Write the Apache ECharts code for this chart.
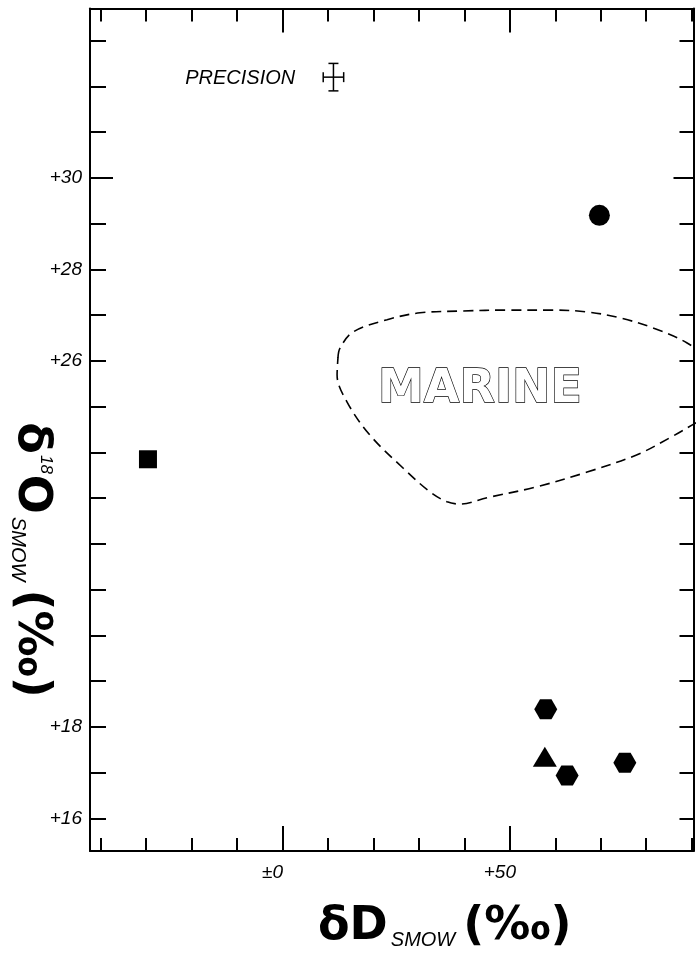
<!DOCTYPE html>
<html>
<head>
<meta charset="utf-8">
<script src="https://cdn.jsdelivr.net/npm/echarts@6/dist/echarts.min.js"></script>
<style>
  html, body { margin: 0; padding: 0; background: #fff; }
  #chart { width: 698px; height: 955px; }
</style>
</head>
<body>
<div id="chart"></div>
<script>
// dD (x) and d18O (y), permil vs SMOW
const xTicks = [-40, -30, -20, -10, 0, 10, 20, 30, 40, 50, 60, 70, 80, 90]
const xMajorTicks = [0, 50]
const xLabelValues = [0, 50]
const yTicks = [16, 17, 18, 19, 20, 21, 22, 23, 24, 25, 26, 27, 28, 29, 30, 31, 32, 33]
const yMajorTicks = [30]
const yLabelValues = [16, 18, 26, 28, 30]

const circlePoints = [[69.7, 29.18]]
const squarePoints = [[-29.6, 23.85]]
const trianglePoints = [[57.7, 17.35]]
const hexagonPoints = [[57.9, 18.39], [62.6, 16.94], [75.3, 17.22]]

// marine field outline (runs past the right edge and gets clipped)
const marineX = [12.2, 12.65, 15.5, 23.0, 30.25, 39.7, 49.4, 59.5, 67.0, 74.2, 81.5, 89.0, 95.1, 96.7, 94.5, 91.4, 85.2, 78.0, 67.0, 56.0, 45.0, 39.1, 36.2, 32.4, 26.5, 19.2, 14.2, 12.0, 12.2]
const marineY = [26.07, 26.28, 26.63, 26.90, 27.05, 27.09, 27.11, 27.11, 27.07, 26.94, 26.72, 26.39, 25.91, 25.37, 24.82, 24.67, 24.32, 23.95, 23.57, 23.25, 23.01, 22.87, 22.92, 23.14, 23.66, 24.38, 25.10, 25.69, 26.07]

// precision cross: x, y, +-dD, +-d18O
const precision = [[11.2, 32.2, 2.25, 0.3]]

const X_MIN = -42.35
const X_MAX = 90.4
const Y_MIN = 15.29
const Y_MAX = 33.7

const black = '#000'
const tickFont = { color: black, fontSize: 19, fontStyle: 'italic', fontFamily: 'Liberation Sans' }
const HEXAGON = 'path://M0,10L5.77,0L17.32,0L23.09,10L17.32,20L5.77,20Z'
const solid = { color: black, opacity: 1 }

function makeAxis(base, position, ticks, len, withLine, label) {
  return Object.assign({}, base, {
    type: 'value',
    position: position,
    axisLine: { show: withLine, onZero: false, lineStyle: { color: black, width: 2 } },
    axisTick: { show: true, inside: true, length: len, customValues: ticks, lineStyle: { color: black, width: 2 } },
    axisLabel: label || { show: false },
    splitLine: { show: false },
  })
}

const xBase = { min: X_MIN, max: X_MAX }
const yBase = { min: Y_MIN, max: Y_MAX }

const chart = echarts.init(document.getElementById('chart'))

chart.setOption({
  animation: false,
  backgroundColor: '#fff',
  grid: { left: 90, top: 8.5, right: 4.5, bottom: 104 },
  xAxis: [
    makeAxis(xBase, 'bottom', xTicks, 13, true, Object.assign({
      customValues: xLabelValues,
      margin: 12,
      padding: [0, 20, 0, 0],
      formatter: v => (v === 0 ? '±0' : '+' + v),
    }, tickFont)),
    makeAxis(xBase, 'top', xTicks, 13, true),
    makeAxis(xBase, 'bottom', xMajorTicks, 25, false),
    makeAxis(xBase, 'top', xMajorTicks, 24, false),
  ],
  yAxis: [
    makeAxis(yBase, 'left', yTicks, 16, true, Object.assign({
      customValues: yLabelValues,
      margin: 8,
      formatter: v => '+' + v,
    }, tickFont)),
    makeAxis(yBase, 'right', yTicks, 14, true),
    makeAxis(yBase, 'left', yMajorTicks, 23, false),
    makeAxis(yBase, 'right', yMajorTicks, 20, false),
  ],
  series: [
    {
      name: 'marine',
      type: 'line',
      smooth: 0.35,
      symbol: 'none',
      clip: true,
      lineStyle: { color: black, width: 1.6, type: [10, 6] },
      data: marineX.map((x, i) => [x, marineY[i]]),
    },
    {
      type: 'scatter', symbol: 'circle', symbolSize: 21,
      itemStyle: solid, data: circlePoints,
    },
    {
      type: 'scatter', symbol: 'rect', symbolSize: 18,
      itemStyle: solid, data: squarePoints,
    },
    {
      type: 'scatter', symbol: 'triangle', symbolSize: [24, 20],
      itemStyle: solid, data: trianglePoints,
    },
    {
      type: 'scatter', symbol: HEXAGON, symbolSize: [23, 20],
      itemStyle: solid, data: hexagonPoints,
    },
    {
      name: 'precision',
      type: 'custom',
      data: precision,
      renderItem: (params, api) => {
        const x = api.value(0)
        const y = api.value(1)
        const dx = api.value(2)
        const dy = api.value(3)
        const l = api.coord([x - dx, y])
        const r = api.coord([x + dx, y])
        const t = api.coord([x, y + dy])
        const b = api.coord([x, y - dy])
        const cap = 5
        const st = { stroke: black, lineWidth: 1.5 }
        const seg = (x1, y1, x2, y2) => ({ type: 'line', shape: { x1, y1, x2, y2 }, style: st })
        return {
          type: 'group',
          children: [
            seg(l[0], l[1], r[0], r[1]),
            seg(t[0], t[1], b[0], b[1]),
            seg(l[0], l[1] - cap, l[0], l[1] + cap),
            seg(r[0], r[1] - cap, r[0], r[1] + cap),
            seg(t[0] - cap, t[1], t[0] + cap, t[1]),
            seg(b[0] - cap, b[1], b[0] + cap, b[1]),
            {
              type: 'text',
              style: {
                text: 'PRECISION', x: l[0] - 28, y: l[1] + 1,
                align: 'right', verticalAlign: 'middle',
                font: 'italic 20px "Liberation Sans"', fill: black,
              },
            },
          ],
        }
      },
    },
  ],
  graphic: [
    {
      type: 'text', x: 480, y: 390,
      style: {
        text: 'MARINE', align: 'center', verticalAlign: 'middle',
        font: 'bold 46px "DejaVu Sans"', fill: '#fff', stroke: black, lineWidth: 1.3,
      },
    },
    {
      type: 'text', x: 318, y: 925,
      style: {
        text: '{a|δD}{s|SMOW}{a|(‰)}',
        align: 'left', verticalAlign: 'middle',
        rich: {
          a: { fontSize: 46, fontWeight: 'bold', fontFamily: 'DejaVu Sans', color: black, lineHeight: 50, verticalAlign: 'bottom' },
          s: { fontSize: 20, fontStyle: 'italic', fontFamily: 'Liberation Sans', color: black, lineHeight: 20, verticalAlign: 'bottom', padding: [0, 8, 0, 3] },
        },
      },
    },
    {
      type: 'text', x: 33, y: 560, rotation: -Math.PI / 2,
      style: {
        text: '{a|δ}{u|18}{a|O}{s|SMOW}{a|(‰)}',
        align: 'center', verticalAlign: 'middle',
        rich: {
          a: { fontSize: 46, fontWeight: 'bold', fontFamily: 'DejaVu Sans', color: black, lineHeight: 50, verticalAlign: 'bottom' },
          u: { fontSize: 17, fontStyle: 'italic', fontFamily: 'Liberation Sans', color: black, lineHeight: 17, verticalAlign: 'top', padding: [4, 1, 0, 1] },
          s: { fontSize: 20, fontStyle: 'italic', fontFamily: 'Liberation Sans', color: black, lineHeight: 20, verticalAlign: 'bottom', padding: [0, 8, 0, 3] },
        },
      },
    },
  ],
})
</script>
</body>
</html>
